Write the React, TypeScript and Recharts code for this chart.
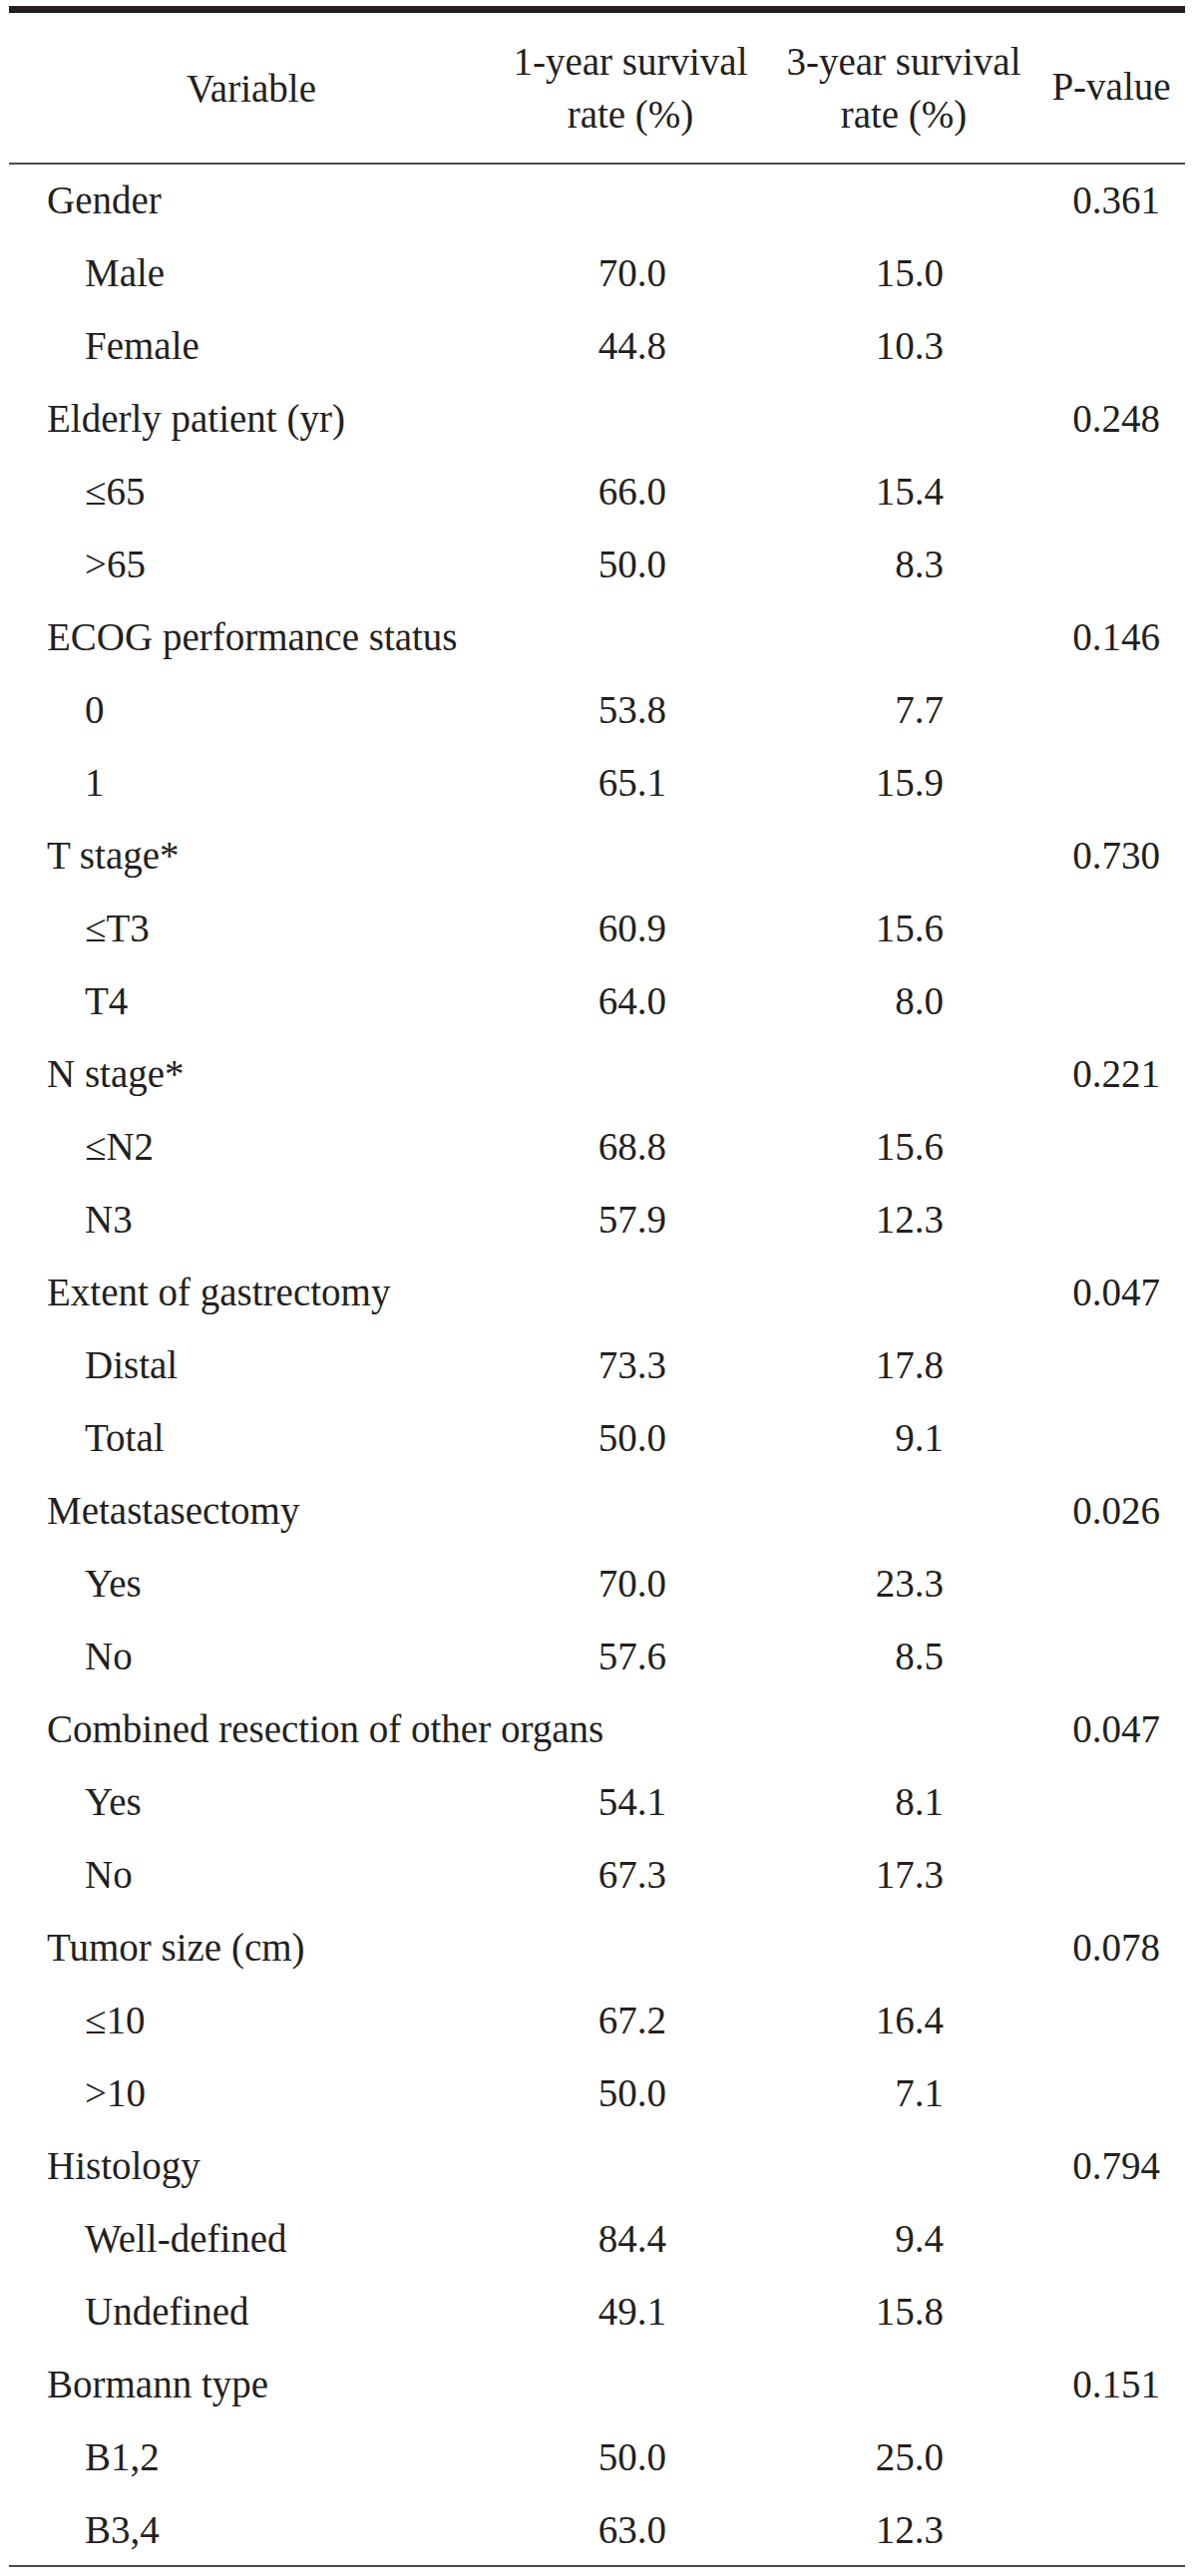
import { BarChart, Bar, XAxis, YAxis, LabelList, Customized } from 'recharts';

// rows of the table, top to bottom
const labels = [
  'Gender', 'Male', 'Female',
  'Elderly patient (yr)', '≤65', '>65',
  'ECOG performance status', '0', '1',
  'T stage*', '≤T3', 'T4',
  'N stage*', '≤N2', 'N3',
  'Extent of gastrectomy', 'Distal', 'Total',
  'Metastasectomy', 'Yes', 'No',
  'Combined resection of other organs', 'Yes', 'No',
  'Tumor size (cm)', '≤10', '>10',
  'Histology', 'Well-defined', 'Undefined',
  'Bormann type', 'B1,2', 'B3,4',
];

const isGroup = labels.map((_, i) => i % 3 === 0);

const oneYear: (number | null)[] = [
  null, 70.0, 44.8,
  null, 66.0, 50.0,
  null, 53.8, 65.1,
  null, 60.9, 64.0,
  null, 68.8, 57.9,
  null, 73.3, 50.0,
  null, 70.0, 57.6,
  null, 54.1, 67.3,
  null, 67.2, 50.0,
  null, 84.4, 49.1,
  null, 50.0, 63.0,
];

const threeYear: (number | null)[] = [
  null, 15.0, 10.3,
  null, 15.4, 8.3,
  null, 7.7, 15.9,
  null, 15.6, 8.0,
  null, 15.6, 12.3,
  null, 17.8, 9.1,
  null, 23.3, 8.5,
  null, 8.1, 17.3,
  null, 16.4, 7.1,
  null, 9.4, 15.8,
  null, 25.0, 12.3,
];

const pValues: (number | null)[] = [
  0.361, null, null,
  0.248, null, null,
  0.146, null, null,
  0.730, null, null,
  0.221, null, null,
  0.047, null, null,
  0.026, null, null,
  0.047, null, null,
  0.078, null, null,
  0.794, null, null,
  0.151, null, null,
];

const headers = ['Variable', '1-year survival', 'rate (%)', '3-year survival', 'rate (%)', 'P-value'];

const FONT = '"Liberation Serif", "Times New Roman", serif';
const INK = '#231f20';
const FS = 39;

const data = labels.map((label, i) => ({
  id: String(i),
  label,
  group: isGroup[i],
  span: 1,
  oneYear: oneYear[i] == null ? '' : (oneYear[i] as number).toFixed(1),
  threeYear: threeYear[i] == null ? '' : (threeYear[i] as number).toFixed(1),
  pValue: pValues[i] == null ? '' : (pValues[i] as number).toFixed(3),
}));

const rowCenter = (props: any) => {
  const vb = props.viewBox ?? props;
  return Number(vb.y) + Number(vb.height) / 2;
};

const cellText = (colX: number, anchor: 'start' | 'end') => (props: any) => {
  const { value } = props;
  if (value === '' || value == null) return null;
  return (
    <text x={colX} y={rowCenter(props) + 13} textAnchor={anchor} fontFamily={FONT} fontSize={FS} fill={INK}>
      {value}
    </text>
  );
};

const labelText = (props: any) => {
  const row = data[props.index];
  if (!row) return null;
  return (
    <text x={row.group ? 47 : 85} y={rowCenter(props) + 13} fontFamily={FONT} fontSize={FS} fill={INK}>
      {row.label}
    </text>
  );
};

const TableFrame = () => (
  <g>
    <rect x={9} y={6} width={1179} height={7} fill={INK} />
    <line x1={9} x2={1188} y1={164} y2={164} stroke="#4a4a4a" strokeWidth={2} />
    <line x1={9} x2={1188} y1={2573} y2={2573} stroke="#4a4a4a" strokeWidth={2} />
    <g fontFamily={FONT} fontSize={FS} fill={INK} textAnchor="middle">
      <text x={252} y={102}>{headers[0]}</text>
      <text x={632} y={75}>{headers[1]}</text>
      <text x={632} y={128}>{headers[2]}</text>
      <text x={906} y={75}>{headers[3]}</text>
      <text x={906} y={128}>{headers[4]}</text>
      <text x={1114} y={100}>{headers[5]}</text>
    </g>
  </g>
);

export default function App() {
  return (
    <div style={{ position: 'absolute', left: 0, top: 0, width: 1200, height: 2583, background: '#fff' }}>
      <BarChart
        width={1200}
        height={2583}
        data={data}
        layout="vertical"
        barCategoryGap={0}
        margin={{ top: 164, right: 12, bottom: 9, left: 9 }}
      >
        <XAxis type="number" domain={[0, 1]} hide />
        <YAxis type="category" dataKey="id" hide />
        <Bar dataKey="span" fill="transparent" isAnimationActive={false}>
          <LabelList dataKey="label" content={labelText} />
          <LabelList dataKey="oneYear" content={cellText(668, 'end')} />
          <LabelList dataKey="threeYear" content={cellText(946, 'end')} />
          <LabelList dataKey="pValue" content={cellText(1163, 'end')} />
        </Bar>
        <Customized component={TableFrame} />
      </BarChart>
    </div>
  );
}
